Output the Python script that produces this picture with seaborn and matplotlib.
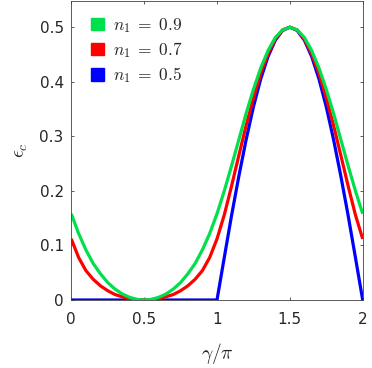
import matplotlib
matplotlib.use("Agg")
import matplotlib.pyplot as plt
from matplotlib.patches import Patch
import pandas as pd
import seaborn as sns

# gamma / pi positions
gamma_over_pi = [0.00, 0.05, 0.10, 0.15, 0.20, 0.25, 0.30, 0.35, 0.40, 0.45,
                 0.50, 0.55, 0.60, 0.65, 0.70, 0.75, 0.80, 0.85, 0.90, 0.95,
                 1.00, 1.05, 1.10, 1.15, 1.20, 1.25, 1.30, 1.35, 1.40, 1.45,
                 1.50, 1.55, 1.60, 1.65, 1.70, 1.75, 1.80, 1.85, 1.90, 1.95,
                 2.00]

# epsilon_c for n1 = 0.9 (green)
eps_n09 = [0.158, 0.122, 0.092, 0.067, 0.048, 0.032, 0.020, 0.011, 0.005, 0.001,
           0.000, 0.001, 0.005, 0.011, 0.020, 0.032, 0.048, 0.067, 0.092, 0.122,
           0.158, 0.200, 0.246, 0.294, 0.342, 0.386, 0.425, 0.457, 0.481, 0.495,
           0.500, 0.495, 0.481, 0.457, 0.425, 0.386, 0.342, 0.294, 0.246, 0.200,
           0.158]

# epsilon_c for n1 = 0.7 (red)
eps_n07 = [0.112, 0.078, 0.054, 0.038, 0.026, 0.017, 0.010, 0.006, 0.002, 0.001,
           0.000, 0.001, 0.002, 0.006, 0.010, 0.017, 0.026, 0.038, 0.054, 0.078,
           0.112, 0.156, 0.209, 0.265, 0.320, 0.370, 0.415, 0.451, 0.478, 0.495,
           0.500, 0.495, 0.478, 0.451, 0.415, 0.370, 0.320, 0.265, 0.209, 0.156,
           0.112]

# epsilon_c for n1 = 0.5 (blue)
eps_n05 = [0.000, 0.000, 0.000, 0.000, 0.000, 0.000, 0.000, 0.000, 0.000, 0.000,
           0.000, 0.000, 0.000, 0.000, 0.000, 0.000, 0.000, 0.000, 0.000, 0.000,
           0.000, 0.078, 0.155, 0.227, 0.294, 0.354, 0.405, 0.446, 0.476, 0.494,
           0.500, 0.494, 0.476, 0.446, 0.405, 0.354, 0.294, 0.227, 0.155, 0.078,
           0.000]

labels = [r"$n_1\;=\;0.9$", r"$n_1\;=\;0.7$", r"$n_1\;=\;0.5$"]
colors = ["#00e04c", "#ff0000", "#0000ff"]

x_ticks = [0, 0.5, 1, 1.5, 2]
x_tick_labels = ["0", "0.5", "1", "1.5", "2"]
y_ticks = [0, 0.1, 0.2, 0.3, 0.4, 0.5]
y_tick_labels = ["0", "0.1", "0.2", "0.3", "0.4", "0.5"]

sns.set_style("ticks")
plt.rcParams["font.family"] = ["DejaVu Sans"]
plt.rcParams["mathtext.fontset"] = "cm"

df = pd.DataFrame({"x": gamma_over_pi, "n09": eps_n09, "n07": eps_n07, "n05": eps_n05})

fig = plt.figure(figsize=(3.72, 3.68), dpi=100)
ax = fig.add_axes([71.3 / 372, 68 / 368, 291.4 / 372, 299 / 368])

# draw blue first, green last (green sits on top)
for col, c in [("n05", colors[2]), ("n07", colors[1]), ("n09", colors[0])]:
    sns.lineplot(data=df, x="x", y=col, color=c, linewidth=2.3, ax=ax,
                 solid_joinstyle="round", solid_capstyle="butt")

ax.set_xlim(0, 2)
ax.set_ylim(0, 0.548)
ax.set_xticks(x_ticks, x_tick_labels)
ax.set_yticks(y_ticks, y_tick_labels)

for side in ["left", "right", "top", "bottom"]:
    ax.spines[side].set_visible(True)
    ax.spines[side].set_color("#404040")
    ax.spines[side].set_linewidth(0.6)

ax.tick_params(direction="in", length=2.2, width=0.6, color="#404040",
               top=True, right=True, labelsize=11, labelcolor="#262626")
ax.tick_params(axis="x", pad=9)
ax.tick_params(axis="y", pad=5.5)

ax.set_xlabel(r"$\gamma/\pi$", fontsize=14, labelpad=10)
ax.set_ylabel(r"$\epsilon_c$", fontsize=14, labelpad=7)

handles = [Patch(facecolor=c, edgecolor=c) for c in colors]
ax.legend(handles, labels, loc="upper left", bbox_to_anchor=(0.068, 0.95),
          frameon=False, borderpad=0, borderaxespad=0, fontsize=12.5,
          handlelength=0.75, handleheight=0.75, handletextpad=0.5,
          labelspacing=0.3)

fig.savefig("out.png", dpi=100)
